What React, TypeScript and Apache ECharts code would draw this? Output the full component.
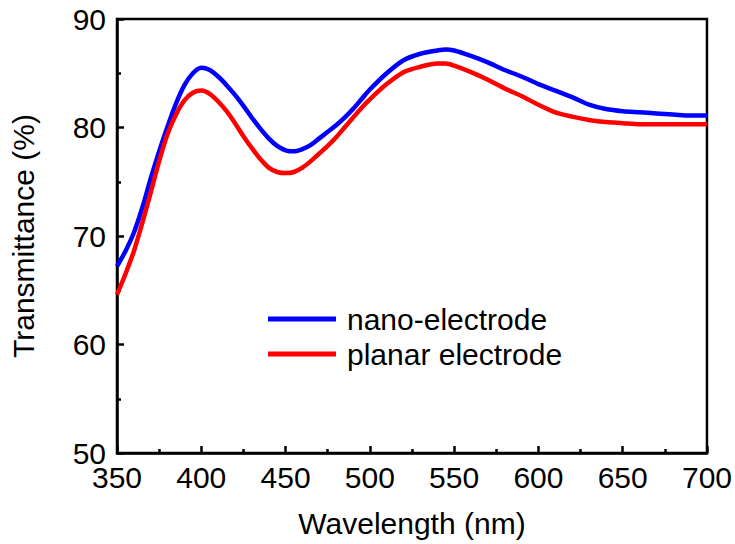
import React, { useEffect, useRef } from "react";
import * as echarts from "echarts";

const wavelengths = [
  350, 355, 360, 365, 370, 375, 380, 385, 390, 395, 400, 405, 410, 415, 420, 425, 430, 435, 440, 445,
  450, 455, 460, 465, 470, 475, 480, 485, 490, 495, 500, 510, 520, 530, 540, 545, 550, 560, 570, 580,
  590, 600, 610, 620, 630, 640, 650, 660, 670, 680, 690, 700,
];

const nanoElectrode = [
  67.2, 68.6, 70.3, 72.6, 75.3, 77.8, 80.1, 82.2, 83.9, 85.0, 85.5, 85.3, 84.7, 83.9, 83.0, 82.0, 80.9, 79.9, 79.0, 78.3,
  77.9, 77.8, 78.0, 78.4, 79.0, 79.6, 80.2, 80.9, 81.7, 82.6, 83.5, 85.0, 86.2, 86.8, 87.1, 87.2, 87.1, 86.6, 86.0, 85.3,
  84.7, 84.0, 83.4, 82.8, 82.1, 81.7, 81.5, 81.4, 81.3, 81.2, 81.1, 81.1,
];

const planarElectrode = [
  64.6, 66.5, 68.6, 71.2, 74.0, 76.9, 79.4, 81.2, 82.5, 83.2, 83.4, 83.1, 82.4, 81.5, 80.4, 79.2, 78.1, 77.1, 76.3, 75.9,
  75.8, 75.9, 76.3, 76.9, 77.6, 78.3, 79.1, 80.0, 80.9, 81.8, 82.6, 84.0, 85.1, 85.6, 85.9, 85.9, 85.7, 85.1, 84.4, 83.6,
  82.9, 82.1, 81.4, 81.0, 80.7, 80.5, 80.4, 80.3, 80.3, 80.3, 80.3, 80.3,
];

const seriesNames = ["nano-electrode", "planar electrode"];
const seriesColors = ["#0000FF", "#FF0000"];

const FONT = "'Liberation Sans', Arial, sans-serif";
const FS = 30;

export default function App() {
  const ref = useRef<HTMLDivElement>(null);
  useEffect(() => {
    if (!ref.current) return;
    const chart = echarts.init(ref.current, null, { renderer: "svg" });
    const pairs = (ys: number[]) => wavelengths.map((x, i) => [x, ys[i]]);
    chart.setOption({
      animation: false,
      backgroundColor: "#fff",
      textStyle: { fontFamily: FONT },
      grid: {
        left: 117,
        right: 27,
        top: 19,
        bottom: 91,
        show: true,
        borderColor: "#000",
        borderWidth: 2.5,
        backgroundColor: "transparent",
      },
      legend: {
        orient: "vertical",
        left: 263,
        top: 298,
        itemWidth: 68,
        itemHeight: 5,
        itemGap: 3,
        icon: "rect",
        data: seriesNames,
        textStyle: {
          fontFamily: FONT,
          fontSize: FS,
          color: "#000",
          lineHeight: 32,
          padding: [0, 0, 0, 6],
        },
      },
      xAxis: {
        type: "value",
        min: 350,
        max: 700,
        interval: 50,
        name: "Wavelength (nm)",
        nameLocation: "middle",
        nameGap: 55,
        nameTextStyle: { fontFamily: FONT, fontSize: FS, color: "#000" },
        axisLine: { show: true, lineStyle: { color: "#000", width: 2.5 } },
        axisTick: { show: true, inside: true, length: 7, lineStyle: { color: "#000", width: 2.5 } },
        minorTick: { show: true, splitNumber: 2, length: 4, lineStyle: { color: "#000", width: 2.5 } },
        axisLabel: { fontFamily: FONT, fontSize: FS, color: "#000", margin: 13, lineHeight: 22 },
        splitLine: { show: false },
      },
      yAxis: {
        type: "value",
        min: 50,
        max: 90,
        interval: 10,
        name: "Transmittance (%)",
        nameLocation: "middle",
        nameGap: 79,
        nameTextStyle: { fontFamily: FONT, fontSize: FS, color: "#000" },
        axisLine: { show: true, lineStyle: { color: "#000", width: 2.5 } },
        axisTick: { show: true, inside: true, length: 7, lineStyle: { color: "#000", width: 2.5 } },
        minorTick: { show: true, splitNumber: 2, length: 4, lineStyle: { color: "#000", width: 2.5 } },
        axisLabel: {
          fontFamily: FONT,
          fontSize: FS,
          color: "#000",
          margin: 11,
          lineHeight: 22,
          padding: [0, 0, 4, 0],
        },
        splitLine: { show: false },
      },
      series: [
        {
          name: seriesNames[0],
          type: "line",
          data: pairs(nanoElectrode),
          showSymbol: false,
          smooth: 0.3,
          color: seriesColors[0],
          lineStyle: { color: seriesColors[0], width: 4.5 },
        },
        {
          name: seriesNames[1],
          type: "line",
          data: pairs(planarElectrode),
          showSymbol: false,
          smooth: 0.3,
          color: seriesColors[1],
          lineStyle: { color: seriesColors[1], width: 4.5 },
        },
      ],
    });
    return () => chart.dispose();
  }, []);
  return (
    <div
      ref={ref}
      style={{ position: "fixed", left: 0, top: 0, width: 735, height: 544 }}
    />
  );
}
